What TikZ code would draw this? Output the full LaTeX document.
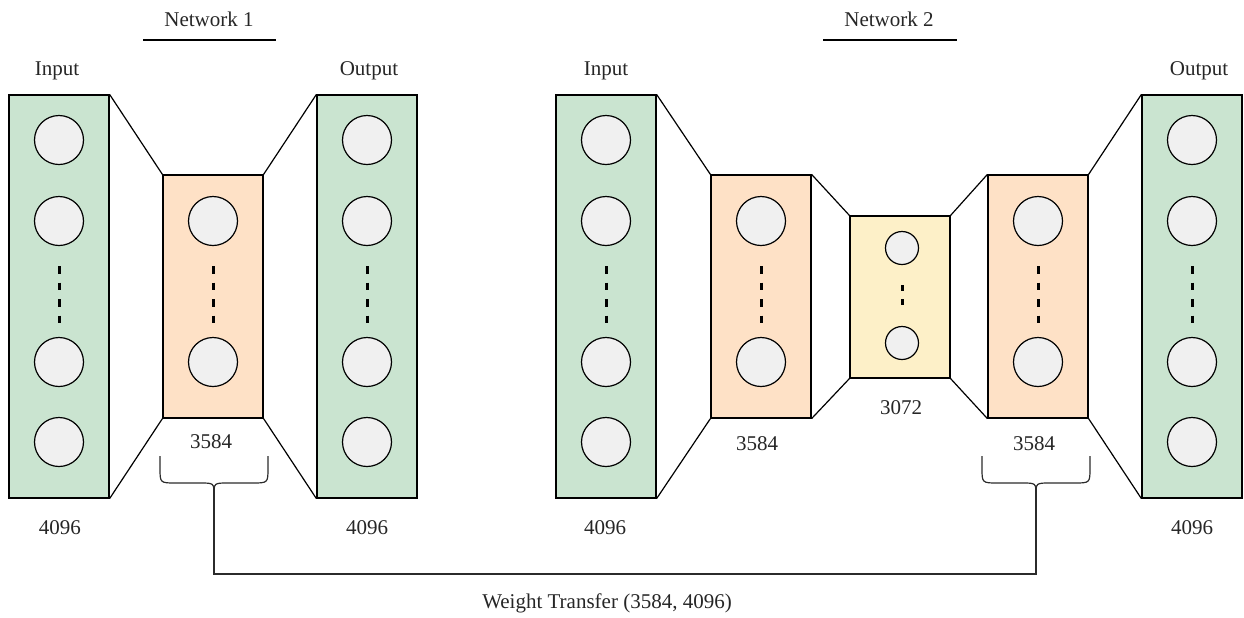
\documentclass[tikz,border=0pt]{standalone}
\usepackage{fontspec}
\setmainfont{Liberation Serif}
\usetikzlibrary{positioning}

\definecolor{layergreen}{HTML}{CAE4D0}
\definecolor{layerorange}{HTML}{FEE1C6}
\definecolor{layeryellow}{HTML}{FDF0C8}
\definecolor{unitgrey}{HTML}{F0F0F0}
\definecolor{linkgrey}{HTML}{2B2B2B}

\tikzset{
  layer/.style={draw, line width=0.6pt, minimum width=50pt, inner sep=0pt},
  io/.style={layer, fill=layergreen, minimum height=201.5pt},
  hidden/.style={layer, fill=layerorange, minimum height=121.5pt},
  code/.style={layer, fill=layeryellow, minimum height=81pt},
  unit/.style={circle, draw, line width=0.6pt, fill=unitgrey, minimum size=24.5pt, inner sep=0pt},
  smallunit/.style={unit, minimum size=16.5pt},
  dots/.style={line width=1.5pt, dash pattern=on 3.75pt off 4.5pt},
  link/.style={line width=0.6pt},
  brace/.style={line width=0.6pt, draw=linkgrey},
  txt/.style={font=\fontsize{10.5}{12}\selectfont, inner sep=0pt, text=black!85},
}

\begin{document}
\begin{tikzpicture}[x=0.5pt, y=-0.5pt]
    \useasboundingbox (0,0) rectangle (1244,617);

    % green input / output layers
    \foreach \b/\x in {in1/59, out1/367, in2/606, out2/1192}
    {
      \node[io] (\b) at (\x,296.5) {};
      \foreach \y/\n in {140/a, 221/b, 362/c, 442/d}
        \node[unit] (\b\n) at (\x,\y) {};
      \draw[dots] ([yshift=-10pt]\b b.south) -- ([yshift=7pt]\b c.north);
    }

    % orange hidden layers
    \foreach \b/\x in {hid1/213, hid2/761, hid3/1038}
    {
      \node[hidden] (\b) at (\x,296.5) {};
      \foreach \y/\n in {221/a, 362/b}
        \node[unit] (\b\n) at (\x,\y) {};
      \draw[dots] ([yshift=-10pt]\b a.south) -- ([yshift=7pt]\b b.north);
    }

    % yellow bottleneck
    \node[code] (mid) at (900,297) {};
    \node[smallunit] (mida) at (902,248) {};
    \node[smallunit] (midb) at (902,343) {};
    \draw[dots, dash pattern=on 3pt off 4pt] ([yshift=-10pt]mida.south) -- ([yshift=10pt]midb.north);

    % layer joins
    \foreach \l/\r in {in1/hid1, hid1/out1, in2/hid2, hid2/mid, mid/hid3, hid3/out2}
    {
      \draw[link] (\l.north east) -- (\r.north west);
      \draw[link] (\l.south east) -- (\r.south west);
    }

    % titles
    \node[txt] (net1) at (209,19) {Network 1};
    \draw[link] (143,40) -- (276,40);
    \node[txt] (net2) at (889,19) {Network 2};
    \draw[link] (823,40) -- (957,40);

    \node[txt] at (57,71) {Input};
    \node[txt] at (369,71) {Output};
    \node[txt] at (606,71) {Input};
    \node[txt] at (1199,71) {Output};

    % sizes
    \foreach \x in {60,367,605,1192}
      \node[txt] at (\x,528) {4096};
    \node[txt] at (211,442) {3584};
    \node[txt] at (757,444) {3584};
    \node[txt] at (901,408) {3072};
    \node[txt] at (1034,444) {3584};

    % braces
    \foreach \c/\t in {214/bl, 1036/br}
    {
      \draw[brace] ({\c-54},456) -- ({\c-54},468) .. controls ({\c-54},483) .. ({\c-38},483)
        -- ({\c-14},483) .. controls (\c,483) .. (\c,495);
      \draw[brace] ({\c+54},456) -- ({\c+54},468) .. controls ({\c+54},483) .. ({\c+38},483)
        -- ({\c+14},483) .. controls (\c,483) .. (\c,495);
      \draw[brace, line width=1pt] (\c,488) -- (\c,505);
      \coordinate (\t) at (\c,505);
    }

    \coordinate (bend) at (625,574);
    \draw[brace] (bl) |- (bend) -| (br);
    \node[txt] (wt) at (607,603) {Weight Transfer (3584, 4096)};
\end{tikzpicture}
\end{document}
